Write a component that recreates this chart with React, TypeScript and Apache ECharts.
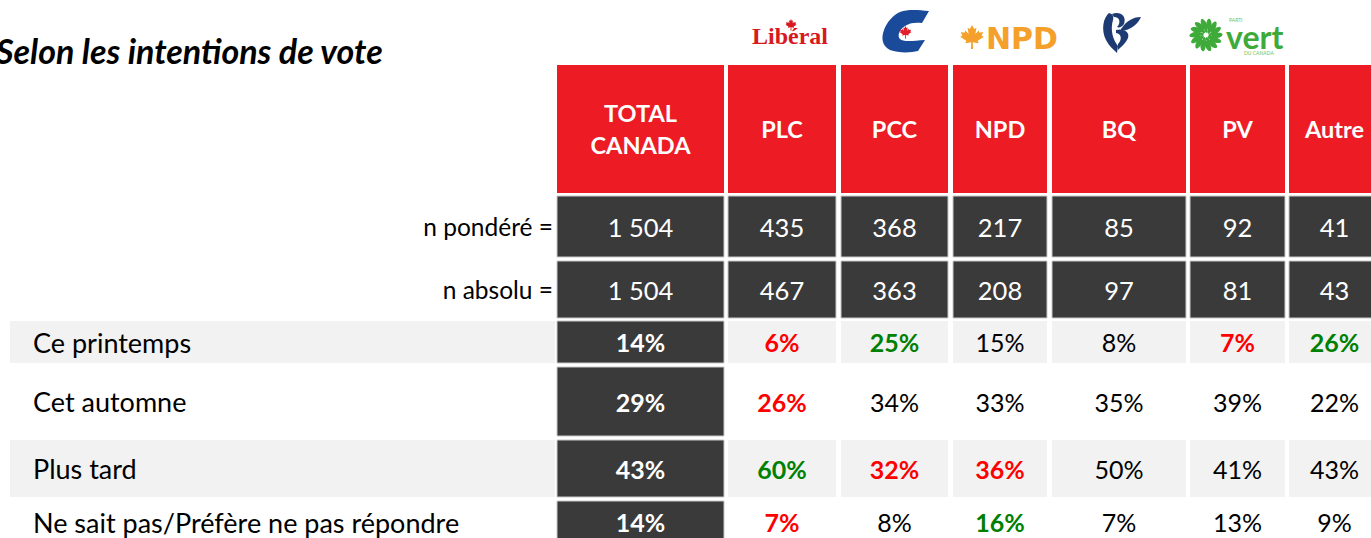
import React, { useEffect, useRef } from "react";
import * as echarts from "echarts";

// ---------------- DATA ----------------
const title = "Selon les intentions de vote";
const columns = ["TOTAL\nCANADA", "PLC", "PCC", "NPD", "BQ", "PV", "Autre"];
const nPondere = ["1 504", "435", "368", "217", "85", "92", "41"];
const nAbsolu = ["1 504", "467", "363", "208", "97", "81", "43"];
const rowLabels = ["Ce printemps", "Cet automne", "Plus tard", "Ne sait pas/Préfère ne pas répondre"];
const cePrintemps = [14, 6, 25, 15, 8, 7, 26];
const cetAutomne = [29, 26, 34, 33, 35, 39, 22];
const plusTard = [43, 60, 32, 36, 50, 41, 43];
const neSaitPas = [14, 7, 8, 16, 7, 13, 9];
// significance vs. total: "h" = higher (green), "l" = lower (red), "" = none
const sigCePrintemps = ["", "l", "h", "", "", "l", "h"];
const sigCetAutomne = ["", "l", "", "", "", "", ""];
const sigPlusTard = ["", "h", "l", "l", "", "", ""];
const sigNeSaitPas = ["", "l", "", "h", "", "", ""];

// ---------------- LAYOUT ----------------
const W = 1371;
const H = 538;
const FONT = "Lato";
const colX: [number, number][] = [
  [557, 724], [728, 836], [841, 948], [953, 1047], [1052, 1186], [1190, 1285], [1289, 1380],
];
const headerY: [number, number] = [65, 193];
const nPY: [number, number] = [196, 257];
const nAY: [number, number] = [261, 318];
const rowY: [number, number][] = [[321, 363], [367, 436], [440, 497], [501, 543]];
const rowShaded = [true, false, true, false];
const labelBand: [number, number] = [10, 555];

const RED = "#ed1c24";
const DARK = "#3a3a3a";
const SHADE = "#f2f2f2";
const SIG_RED = "#ff0000";
const SIG_GREEN = "#008000";

type Cell = {
  x0: number; x1: number; y0: number; y1: number;
  fill: string | null; stroke?: string;
  text: string; color: string; size: number; bold: boolean;
  align: "left" | "center" | "right"; tx?: number;
};

function buildCells(): Cell[] {
  const cells: Cell[] = [];
  columns.forEach((c, i) => {
    cells.push({ x0: colX[i][0], x1: colX[i][1], y0: headerY[0], y1: headerY[1], fill: RED,
      text: c, color: "#ffffff", size: 23.5, bold: true, align: "center" });
  });
  const nRows: [string, string[], [number, number]][] = [
    ["n pondéré =", nPondere, nPY],
    ["n absolu =", nAbsolu, nAY],
  ];
  nRows.forEach(([lab, vals, y]) => {
    cells.push({ x0: 0, x1: 553, y0: y[0], y1: y[1], fill: null, text: lab, color: "#000000",
      size: 24.5, bold: false, align: "right", tx: 553 });
    vals.forEach((v, i) => {
      cells.push({ x0: colX[i][0], x1: colX[i][1], y0: y[0], y1: y[1], fill: DARK, stroke: "#c9c9c9",
        text: v, color: "#ffffff", size: 25.5, bold: false, align: "center" });
    });
  });
  const vals = [cePrintemps, cetAutomne, plusTard, neSaitPas];
  const sigs = [sigCePrintemps, sigCetAutomne, sigPlusTard, sigNeSaitPas];
  rowLabels.forEach((lab, r) => {
    const y = rowY[r];
    cells.push({ x0: labelBand[0], x1: labelBand[1], y0: y[0], y1: y[1], fill: rowShaded[r] ? SHADE : null,
      text: lab, color: "#000000", size: 27, bold: false, align: "left", tx: 33 });
    vals[r].forEach((v, i) => {
      const s = sigs[r][i];
      const isTotal = i === 0;
      cells.push({
        x0: colX[i][0], x1: colX[i][1], y0: y[0], y1: y[1],
        fill: isTotal ? DARK : rowShaded[r] ? SHADE : null,
        stroke: isTotal ? "#c9c9c9" : undefined,
        text: v + "%",
        color: isTotal ? "#ffffff" : s === "h" ? SIG_GREEN : s === "l" ? SIG_RED : "#000000",
        size: 25, bold: isTotal || s !== "", align: "center",
      });
    });
  });
  return cells;
}

const MAPLE =
  "M50,0 L58,16 L67,11 L63,36 L76,22 L79,31 L93,28 L87,43 L96,47 L72,63 L76,73 L53,69 L54,96 L46,96 L47,69 L24,73 L28,63 L4,47 L13,43 L7,28 L21,31 L24,22 L37,36 L33,11 L42,16 Z";
const PCC_C =
  "M900,12 C908,9 918,10 929,11 L922,23 C915,22 909,23 905,26 C899,30 897,36 900,39 C903,42 912,41 925,40 L918,51 C910,53 898,53 890,50 C882,46 881,38 884,30 C887,22 893,15 900,12 Z";
const BQ_SHAPE =
  "M1109,13 C1103,18 1101,30 1106,40 C1109,46 1114,50 1117,53 L1118,46 C1113,40 1110,30 1113,20 C1114,17 1113,14 1109,13 Z " +
  "M1112,14 C1120,11 1127,16 1124,24 C1122,27 1119,28 1117,27 C1121,23 1120,17 1114,17 Z " +
  "M1121,29 C1127,20 1134,17 1141,17 C1138,24 1131,30 1121,31 Z " +
  "M1116,30 C1124,28 1130,32 1128,38 C1126,43 1121,47 1118,50 L1118,44 C1122,40 1122,34 1116,33 Z";

let registered = false;
function registerShapes() {
  if (registered) return;
  registered = true;
  echarts.graphic.registerShape("maple", echarts.graphic.extendPath(MAPLE, {}) as any);
  echarts.graphic.registerShape("pccC", echarts.graphic.extendPath(PCC_C, {}) as any);
  echarts.graphic.registerShape("bqShape", echarts.graphic.extendPath(BQ_SHAPE, {}) as any);
}

function flower(cx: number, cy: number) {
  const green = "#3eaa3a";
  const children: any[] = [];
  for (let i = 0; i < 14; i++) {
    children.push({ type: "ellipse", rotation: (i * 2 * Math.PI) / 14,
      shape: { cx: 3, cy: -10.5, rx: 2.6, ry: 5.8 }, style: { fill: green } });
  }
  for (let i = 0; i < 9; i++) {
    children.push({ type: "ellipse", rotation: (i * 2 * Math.PI) / 9 + 0.3,
      shape: { cx: 1.5, cy: -5, rx: 1.6, ry: 3 }, style: { fill: green } });
  }
  children.push({ type: "circle", shape: { cx: 0, cy: 0, r: 1.8 }, style: { fill: "#ffffff" } });
  return { type: "group", x: cx, y: cy, children };
}

function logos(): any[] {
  return [
    // Liberal
    { type: "maple", x: 785, y: 19, scaleX: 0.12, scaleY: 0.12, style: { fill: "#d71920" } },
    { type: "text", x: 790, y: 48, style: { text: "Libéral", fill: "#d71920", align: "center",
      verticalAlign: "bottom", fontFamily: "Liberation Serif", fontWeight: "bold", fontSize: 24 } },
    // PCC
    { type: "pccC", x: 0, y: 0, style: { fill: "#1a4b9b" } },
    { type: "maple", x: 899, y: 26, scaleX: 0.13, scaleY: 0.13, style: { fill: "#e3202a" } },
    // NPD
    { type: "maple", x: 959, y: 25, scaleX: 0.26, scaleY: 0.25, style: { fill: "#f4a02b" } },
    { type: "text", x: 986, y: 38, style: { text: "NPD", fill: "#f4a02b", align: "left",
      verticalAlign: "middle", fontFamily: "DejaVu Sans", fontWeight: "bold", fontSize: 30 } },
    // BQ
    { type: "bqShape", x: 0, y: 0, style: { fill: "#1d3a72" } },
    // Vert
    flower(1206, 35),
    { type: "text", x: 1229, y: 20, style: { text: "PARTI", fill: "#6cbf5c", align: "left",
      verticalAlign: "middle", fontFamily: FONT, fontSize: 5, lineHeight: 5 } },
    { type: "text", x: 1226, y: 36, style: { text: "vert", fill: "#3eaa3a", align: "left",
      verticalAlign: "middle", fontFamily: FONT, fontWeight: "bold", fontSize: 32, lineHeight: 22 } },
    { type: "text", x: 1244, y: 53, style: { text: "DU CANADA", fill: "#6cbf5c", align: "left",
      verticalAlign: "middle", fontFamily: FONT, fontSize: 5, lineHeight: 5 } },
  ];
}

export default function App() {
  const ref = useRef<HTMLDivElement>(null);
  useEffect(() => {
    if (!ref.current) return;
    registerShapes();
    const chart = echarts.init(ref.current, null, { renderer: "svg" });
    const cells = buildCells();
    chart.setOption({
      animation: false,
      backgroundColor: "#ffffff",
      grid: { left: 0, right: 0, top: 0, bottom: 0 },
      xAxis: { type: "value", min: 0, max: W, show: false },
      yAxis: { type: "value", min: 0, max: H, inverse: true, show: false },
      graphic: [
        { type: "text", x: -4, y: 50, style: { text: title, fill: "#000000", verticalAlign: "middle",
          fontFamily: FONT, fontWeight: "bold", fontStyle: "italic", fontSize: 34 } },
        ...logos(),
      ],
      series: [
        {
          type: "custom",
          clip: true,
          data: cells.map((c, i) => [i]),
          renderItem: (params: any, api: any) => {
            const c = cells[params.dataIndex];
            const p0 = api.coord([c.x0, c.y0]);
            const p1 = api.coord([c.x1, c.y1]);
            const children: any[] = [];
            if (c.fill) {
              children.push({ type: "rect",
                shape: { x: p0[0], y: p0[1], width: p1[0] - p0[0], height: p1[1] - p0[1] },
                style: { fill: c.fill, stroke: c.stroke || null, lineWidth: c.stroke ? 1 : 0 } });
            }
            const tx = c.tx !== undefined ? api.coord([c.tx, 0])[0] : (p0[0] + p1[0]) / 2;
            children.push({ type: "text",
              style: { text: c.text, x: tx, y: (p0[1] + p1[1]) / 2, align: c.align, verticalAlign: "middle",
                fill: c.color, fontFamily: FONT, fontSize: c.size, fontWeight: c.bold ? "bold" : "normal",
                lineHeight: c.size * 1.4 } });
            return { type: "group", children };
          },
        },
      ],
    });
    return () => chart.dispose();
  }, []);
  return <div ref={ref} style={{ position: "fixed", left: 0, top: 0, width: W, height: H }} />;
}
